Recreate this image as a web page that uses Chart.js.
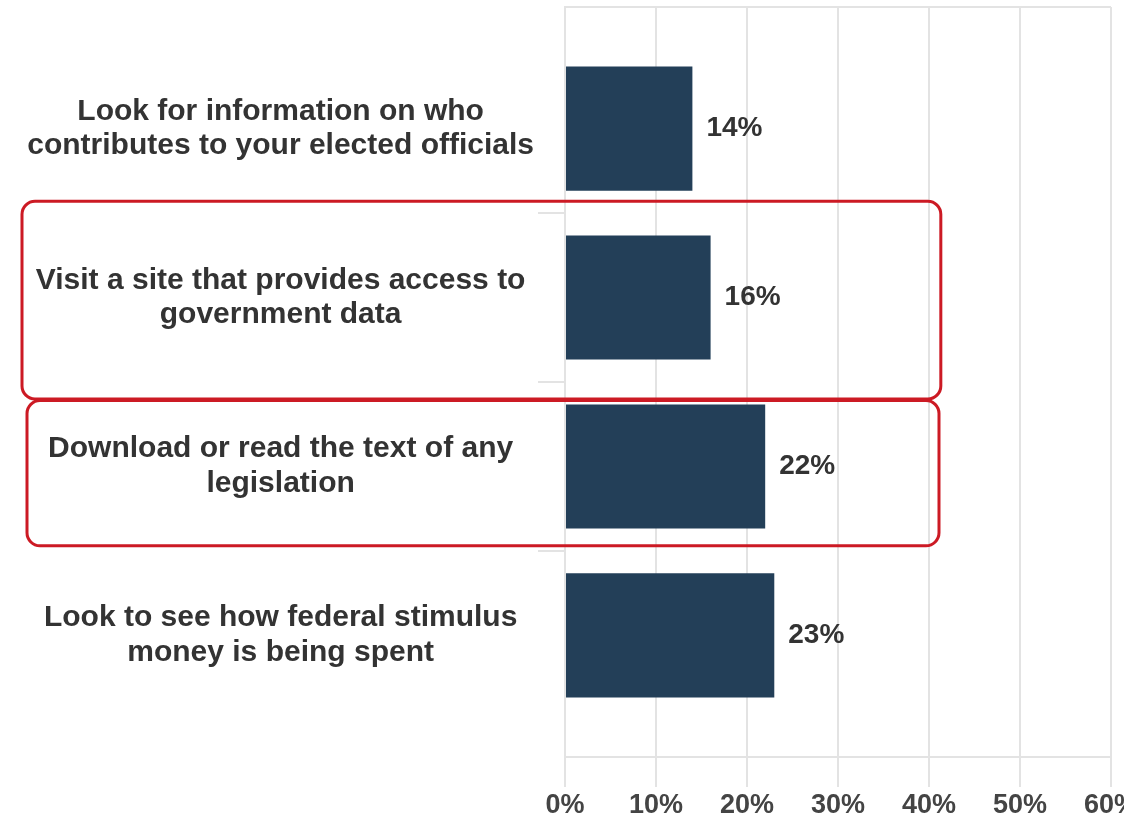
<!DOCTYPE html>
<html><head><meta charset="utf-8">
<script src="https://cdn.jsdelivr.net/npm/chart.js@4"></script>
<style>html,body{margin:0;padding:0;background:#fff;overflow:hidden}#wrap{width:1140px;height:829px}</style>
</head><body><div id="wrap"><canvas id="c"></canvas></div>
<script>
const categories = [
  ["Look for information on who", "contributes to your elected officials"],
  ["Visit a site that provides access to", "government data"],
  ["Download or read the text of any", "legislation"],
  ["Look to see how federal stimulus", "money is being spent"]
];
const values = [14, 16, 22, 23];
const xTicks = [0, 10, 20, 30, 40, 50, 60];
// highlighted rows: y range in category-index units, right edge in % units
const highlightFrom = [0.43, 1.61];
const highlightTo = [1.6, 2.47];
const highlightRight = [41.3, 41.1];
const highlightLeftPx = [22, 27];

const barData = values.map((v, i) => ({x: v, y: i}));
const FONT = '"Liberation Sans", Arial, sans-serif';

const extras = {
  id: 'extras',
  beforeDatasetsDraw(chart) {
    const {ctx, chartArea} = chart;
    ctx.save();
    ctx.strokeStyle = '#e3e3e3';
    ctx.lineWidth = 2;
    ctx.beginPath();
    ctx.moveTo(chartArea.left, chartArea.top);
    ctx.lineTo(chartArea.right, chartArea.top);
    ctx.stroke();
    ctx.restore();
  },
  afterDatasetsDraw(chart) {
    const {ctx} = chart;
    const xs = chart.scales.x, ys = chart.scales.y;
    ctx.save();
    const meta = chart.getDatasetMeta(0);
    ctx.font = 'bold 28px ' + FONT;
    ctx.fillStyle = '#333';
    ctx.textAlign = 'left';
    ctx.textBaseline = 'middle';
    meta.data.forEach((bar, i) => {
      ctx.fillText(values[i] + '%', bar.x + 14, bar.y);
    });
    ctx.strokeStyle = '#cc1a24';
    ctx.lineWidth = 3;
    for (let i = 0; i < highlightFrom.length; i++) {
      const t = ys.getPixelForValue(highlightFrom[i]);
      const b = ys.getPixelForValue(highlightTo[i]);
      const l = highlightLeftPx[i];
      const r = xs.getPixelForValue(highlightRight[i]);
      ctx.beginPath();
      ctx.roundRect(l, t, r - l, b - t, 13);
      ctx.stroke();
    }
    ctx.restore();
  }
};

new Chart(document.getElementById('c'), {
  type: 'bar',
  data: {
    datasets: [{
      data: barData,
      backgroundColor: '#233f58',
      borderWidth: 0,
      categoryPercentage: 1,
      barPercentage: 0.735
    }]
  },
  options: {
    indexAxis: 'y',
    responsive: true,
    maintainAspectRatio: false,
    animation: false,
    layout: {padding: {top: 7, left: 0, right: 0, bottom: 0}},
    plugins: {legend: {display: false}, tooltip: {enabled: false}},
    scales: {
      x: {
        type: 'linear', min: 0, max: 60, offset: false,
        afterBuildTicks: s => { s.ticks = xTicks.map(v => ({value: v})); },
        afterFit: s => { s.height = 72; },
        grid: {color: '#e3e3e3', lineWidth: 2, tickLength: 30, offset: false},
        border: {color: '#e3e3e3', width: 2},
        ticks: {
          callback: v => v + '%',
          color: '#444',
          padding: 2,
          maxRotation: 0,
          font: {family: FONT, size: 27, weight: 'bold'}
        }
      },
      y: {
        type: 'linear', min: -0.72, max: 3.72, reverse: true, offset: false,
        afterBuildTicks: s => { s.ticks = categories.map((c, i) => ({value: i})); },
        afterFit: s => { s.width = 565; s.paddingTop = 0; s.paddingBottom = 0; },
        grid: {
          offset: true,
          drawOnChartArea: false,
          tickLength: 27,
          lineWidth: 2,
          color: c => (c.type === 'tick' && c.index > 0) ? '#e3e3e3' : 'rgba(0,0,0,0)'
        },
        border: {color: '#e3e3e3', width: 2},
        ticks: {
          callback: v => categories[v],
          crossAlign: 'center',
          color: '#333',
          padding: 4,
          font: {family: FONT, size: 30, weight: 'bold', lineHeight: 1.15}
        }
      }
    }
  },
  plugins: [extras]
});
</script></body></html>
